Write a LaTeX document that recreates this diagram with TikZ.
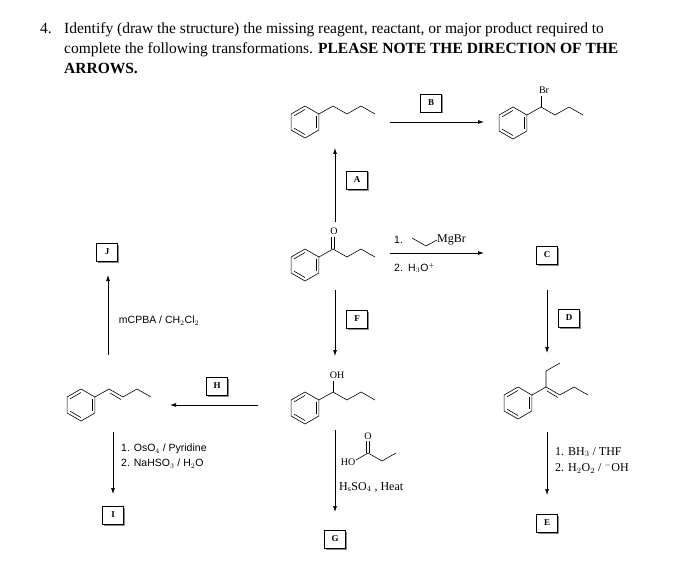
\documentclass[tikz,border=0pt]{standalone}
\usepackage{fontspec}
\setmainfont{Liberation Serif}
\newfontfamily\sansf{Liberation Sans}
\usetikzlibrary{shadows,arrows.meta,calc}
\newcommand{\benz}[2]{%
  \draw[bond] (#1,#2) ++(90:-16) -- ++(-30:-16) -- ++(-90:-16) -- ++(-150:-16) -- ++(150:-16) -- ++(90:-16) -- cycle;
  \draw[bond] ($(#1,#2)+(150:-12.5)$) -- ($(#1,#2)+(210:-12.5)$);
  \draw[bond] ($(#1,#2)+(30:-12.5)$) -- ($(#1,#2)+(90:-12.5)$);
  \draw[bond] ($(#1,#2)+(270:-12.5)$) -- ($(#1,#2)+(330:-12.5)$);
}
\begin{document}
\begin{tikzpicture}[x=1pt,y=-1pt,
  bond/.style={line width=0.6pt},
  rxn/.style={line width=0.7pt,-{Latex[length=6pt,width=4pt]}},
  lbox/.style={draw,line width=0.6pt,fill=white,minimum width=21pt,minimum height=18pt,inner sep=0pt,font=\fontsize{9}{9}\selectfont\bfseries,
     drop shadow={shadow xshift=1.5pt,shadow yshift=-1.5pt,fill=black!45,opacity=1}},
  rs/.style={font=\sansf\fontsize{10.5}{12}\selectfont,inner sep=0pt},
  rr/.style={font=\fontsize{12}{13}\selectfont,inner sep=0pt},
  atom/.style={font=\fontsize{10}{10}\selectfont,inner sep=0.5pt}]
\useasboundingbox (0,0) rectangle (690,588);
\tikzset{tt/.style={anchor=base west,inner sep=0,font=\fontsize{15.5}{17}\selectfont}}
% title
\node[tt] (num) at (40,34) {4.};
\node[tt] (t1) at (64,34) {Identify (draw the structure) the missing reagent, reactant, or major product required to};
\node[tt] (t2) at (64,54) {complete the following transformations. \textbf{PLEASE NOTE THE DIRECTION OF THE}};
\node[tt] (t3) at (64,74) {\textbf{ARROWS.}};
% butylbenzene
\benz{305}{122}
\draw[bond] (318.9,114) -- (333,106) -- (347,114) -- (361,106) -- (375,114);
% bromo product
\benz{513}{123}
\draw[bond] (526.9,115) -- (541,107) -- (555,115) -- (569,107) -- (583,115);
\draw[bond] (541,107) -- (541,96);
\node[atom] (br) at (544,90) {Br};
% ketone
\benz{305}{265}
\draw[bond] (318.9,257) -- (333,249) -- (347,257) -- (361,249) -- (375,257);
\draw[bond] (331.5,249) -- (331.5,237); \draw[bond] (334.5,249) -- (334.5,237);
\node[atom] (o1) at (334,231) {O};
% alcohol
\benz{305}{408}
\draw[bond] (318.9,400) -- (333,392) -- (347,400) -- (361,392) -- (375,400);
\draw[bond] (333,392) -- (333,381);
\node[atom] (oh) at (337,375) {OH};
% styrene-like alkene
\benz{81}{405}
\draw[bond] (94.9,397) -- (109,389) -- (123,397) -- (137,389) -- (151,397);
\draw[bond] (110,393) -- (121,399.5);
% right alkene
\benz{518}{403}
\draw[bond] (531.9,395) -- (546,387) -- (560,395) -- (574,387) -- (588,395);
\draw[bond] (546,387) -- (546,371) -- (560,363);
\draw[bond] (547,391) -- (558,397.5);
% propanoic acid
\node[atom] (ho) at (348,462) {HO};
\draw[bond] (356,460) -- (368,453) -- (382,461) -- (396,453);
\draw[bond] (366.5,453) -- (366.5,441); \draw[bond] (369.5,453) -- (369.5,441);
\node[atom] (o2) at (368,436) {O};
% coordinates
\coordinate (bS) at (390,122); \coordinate (bE) at (484,122);
\coordinate (aS) at (335,222); \coordinate (aE) at (335,148);
\coordinate (gS) at (390,253); \coordinate (gE) at (484,253);
\coordinate (dS) at (547,290); \coordinate (dE) at (547,353);
\coordinate (fS) at (335,290); \coordinate (fE) at (335,356);
\coordinate (jS) at (108,355); \coordinate (jE) at (108,275);
\coordinate (hS) at (258,405); \coordinate (hE) at (170,405);
\coordinate (iS) at (113,432); \coordinate (iE) at (113,494);
\coordinate (GS) at (335,430); \coordinate (GE) at (335,512);
\coordinate (eS) at (547,432); \coordinate (eE) at (547,495);
\draw[rxn] (bS) -- (bE); \draw[rxn] (aS) -- (aE); \draw[rxn] (gS) -- (gE);
\draw[rxn] (dS) -- (dE); \draw[rxn] (fS) -- (fE); \draw[rxn] (jS) -- (jE);
\draw[rxn] (hS) -- (hE); \draw[rxn] (iS) -- (iE); \draw[rxn] (GS) -- (GE);
\draw[rxn] (eS) -- (eE);
% boxes
\node[lbox] (B) at (431,103) {B};
\node[lbox] (A) at (357,180) {A};
\node[lbox] (C) at (547,255) {C};
\node[lbox] (D) at (569,318) {D};
\node[lbox] (F) at (357,319) {F};
\node[lbox] (J) at (107,252) {J};
\node[lbox] (H) at (217,386) {H};
\node[lbox] (I) at (113,515) {I};
\node[lbox] (G) at (335,539) {G};
\node[lbox] (E) at (547,523) {E};
% reagents
\node[rs,anchor=west] (g1) at (394,240) {1.};
\draw[bond] (412,238) -- (426,246) -- (437,240);
\node[rr,anchor=west] (mg) at (437,240) {MgBr};
\node[rs,anchor=west] (g2) at (394,268) {2.\enspace H$_3$O$^+$};
\node[rs] (mc) at (159,321) {mCPBA / CH$_2$Cl$_2$};
\node[rs,anchor=west] (os1) at (121,449) {1. OsO$_4$ / Pyridine};
\node[rs,anchor=west] (os2) at (121,464) {2. NaHSO$_3$ / H$_2$O};
\node[rr,anchor=west] (hs) at (339,487) {H$_{\mathrm{s}}$SO$_4$ , Heat};
\node[rr,anchor=west] (bh1) at (555,452) {1. BH$_3$ / THF};
\node[rr,anchor=west] (bh2) at (555,468) {2. H$_2$O$_2$ / $^{-}$OH};
\end{tikzpicture}
\end{document}
